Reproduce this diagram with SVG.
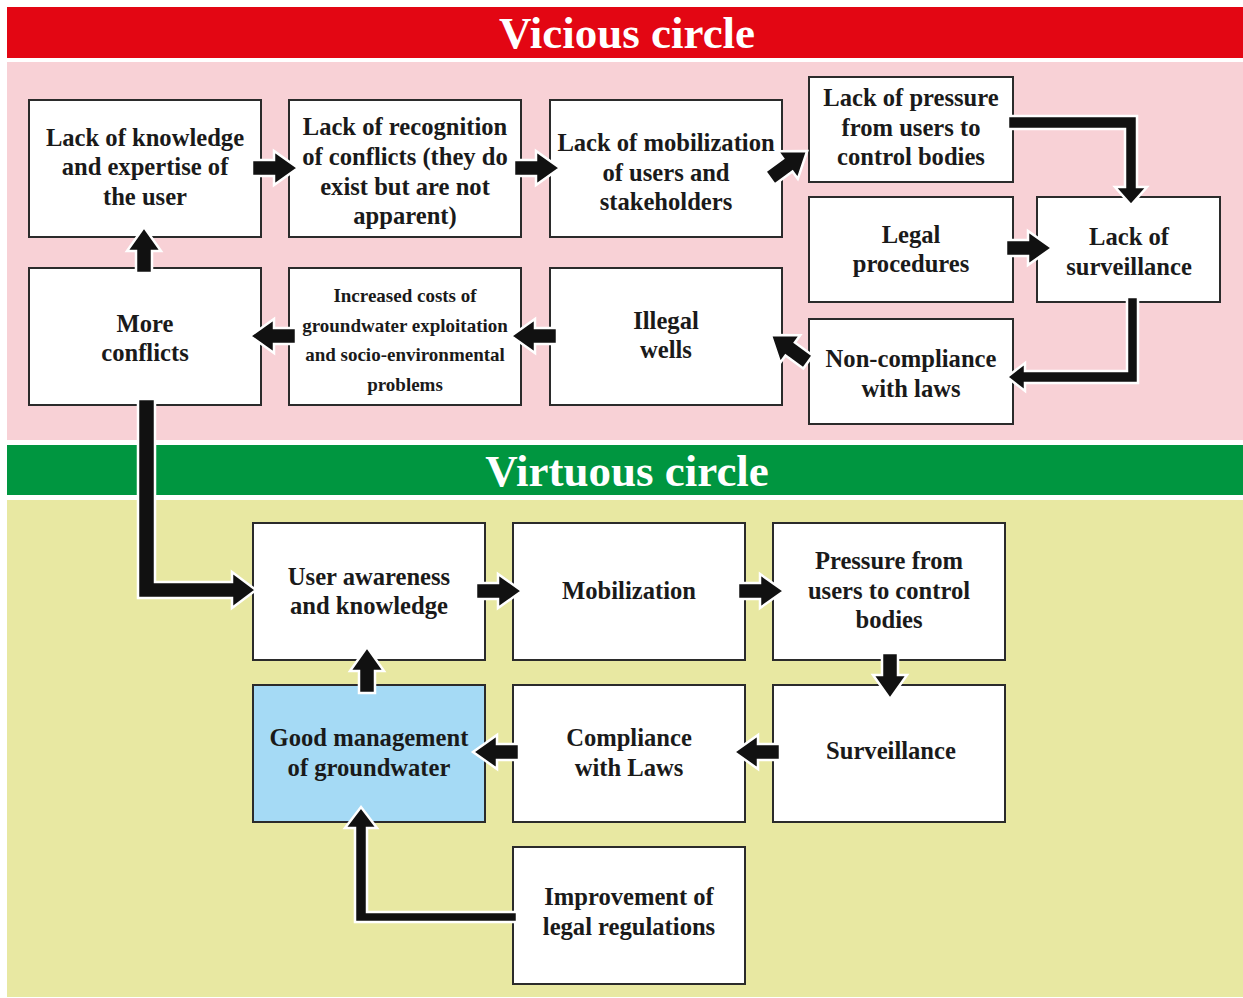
<svg xmlns="http://www.w3.org/2000/svg" width="1243" height="998" viewBox="0 0 1243 998">
<style>
.box{fill:#fff;stroke:#2b2b2b;stroke-width:2}
.blue{fill:#a5daf5}
.t{font-family:"Liberation Serif","Times New Roman",serif;font-weight:bold;font-size:24.6px;fill:#1a1a1a;text-anchor:middle}
.s{font-size:19px}
.title{font-family:"Liberation Serif","Times New Roman",serif;font-weight:bold;font-size:45px;fill:#fff;text-anchor:middle}
.arr{fill:#111;stroke:#fff;stroke-width:2.5;stroke-linejoin:miter}
</style>
<defs>
<path id="a" class="arr" d="M0,-8 H22 V-17 L46,0 L22,17 V8 H0 Z"/>
</defs>
<rect width="1243" height="998" fill="#fff"/>
<g id="bands">
<rect x="7" y="7" width="1236" height="51" fill="#e30613"/>
<rect x="7" y="62" width="1236" height="378" fill="#f8d1d6"/>
<rect x="7" y="445" width="1236" height="50" fill="#009640"/>
<rect x="7" y="500" width="1236" height="497" fill="#e8e8a2"/>
<text class="title" x="627" y="48">Vicious circle</text>
<text class="title" x="627" y="486">Virtuous circle</text>
</g>
<g id="n1"><rect class="box" x="29" y="100" width="232" height="137"/><text class="t"><tspan x="145" y="146">Lack of knowledge</tspan><tspan x="145" y="175">and expertise of</tspan><tspan x="145" y="205">the user</tspan></text></g>
<g id="n2"><rect class="box" x="289" y="100" width="232" height="137"/><text class="t"><tspan x="405" y="135">Lack of recognition</tspan><tspan x="405" y="165">of conflicts (they do</tspan><tspan x="405" y="195">exist but are not</tspan><tspan x="405" y="224">apparent)</tspan></text></g>
<g id="n3"><rect class="box" x="550" y="100" width="232" height="137"/><text class="t"><tspan x="666" y="151">Lack of mobilization</tspan><tspan x="666" y="181">of users and</tspan><tspan x="666" y="210">stakeholders</tspan></text></g>
<g id="n4"><rect class="box" x="809" y="77" width="204" height="105"/><text class="t"><tspan x="911" y="106">Lack of pressure</tspan><tspan x="911" y="136">from users to</tspan><tspan x="911" y="165">control bodies</tspan></text></g>
<g id="n5"><rect class="box" x="809" y="197" width="204" height="105"/><text class="t"><tspan x="911" y="243">Legal</tspan><tspan x="911" y="272">procedures</tspan></text></g>
<g id="n6"><rect class="box" x="1037" y="197" width="183" height="105"/><text class="t"><tspan x="1129" y="245">Lack of</tspan><tspan x="1129" y="275">surveillance</tspan></text></g>
<g id="n7"><rect class="box" x="809" y="319" width="204" height="105"/><text class="t"><tspan x="911" y="367">Non-compliance</tspan><tspan x="911" y="397">with laws</tspan></text></g>
<g id="n8"><rect class="box" x="550" y="268" width="232" height="137"/><text class="t"><tspan x="666" y="329">Illegal</tspan><tspan x="666" y="358">wells</tspan></text></g>
<g id="n9"><rect class="box" x="289" y="268" width="232" height="137"/><text class="t s"><tspan x="405" y="302">Increased costs of</tspan><tspan x="405" y="332">groundwater exploitation</tspan><tspan x="405" y="361">and socio-environmental</tspan><tspan x="405" y="391">problems</tspan></text></g>
<g id="n10"><rect class="box" x="29" y="268" width="232" height="137"/><text class="t"><tspan x="145" y="332">More</tspan><tspan x="145" y="361">conflicts</tspan></text></g>
<g id="v1"><rect class="box" x="253" y="523" width="232" height="137"/><text class="t"><tspan x="369" y="585">User awareness</tspan><tspan x="369" y="614">and knowledge</tspan></text></g>
<g id="v2"><rect class="box" x="513" y="523" width="232" height="137"/><text class="t"><tspan x="629" y="599">Mobilization</tspan></text></g>
<g id="v3"><rect class="box" x="773" y="523" width="232" height="137"/><text class="t"><tspan x="889" y="569">Pressure from</tspan><tspan x="889" y="599">users to control</tspan><tspan x="889" y="628">bodies</tspan></text></g>
<g id="v4"><rect class="box" x="773" y="685" width="232" height="137"/><text class="t"><tspan x="891" y="759">Surveillance</tspan></text></g>
<g id="v5"><rect class="box" x="513" y="685" width="232" height="137"/><text class="t"><tspan x="629" y="746">Compliance</tspan><tspan x="629" y="776">with Laws</tspan></text></g>
<g id="v6"><rect class="box blue" x="253" y="685" width="232" height="137"/><text class="t"><tspan x="369" y="746">Good management</tspan><tspan x="369" y="776">of groundwater</tspan></text></g>
<g id="v7"><rect class="box" x="513" y="847" width="232" height="137"/><text class="t"><tspan x="629" y="905">Improvement of</tspan><tspan x="629" y="935">legal regulations</tspan></text></g>
<g id="connectors">
<use href="#a" transform="translate(252,168)"/>
<use href="#a" transform="translate(514,168)"/>
<use href="#a" transform="translate(770,178) rotate(-36)"/>
<use href="#a" transform="translate(1006,248)"/>
<use href="#a" transform="translate(808,362) rotate(-144)"/>
<use href="#a" transform="translate(557,336) rotate(180)"/>
<use href="#a" transform="translate(296,336) rotate(180)"/>
<use href="#a" transform="translate(144,273) rotate(-90)"/>
<path class="arr" d="M1008,116 H1137 V187 H1147 L1131,205 L1115,187 H1125 V129 H1008 Z"/>
<path class="arr" d="M1127,297 H1138 V383 H1025 V391 L1007,377 L1025,363 V371 H1127 Z"/>
<path class="arr" d="M138,399 H155 V582 H232 V572 L256,590 L232,608 V598 H138 Z"/>
<use href="#a" transform="translate(476,591)"/>
<use href="#a" transform="translate(738,591)"/>
<use href="#a" transform="translate(890,653) rotate(90)"/>
<use href="#a" transform="translate(780,752) rotate(180)"/>
<use href="#a" transform="translate(519,752) rotate(180)"/>
<use href="#a" transform="translate(367,693) rotate(-90)"/>
<path class="arr" d="M517,912 V922 H355 V828 H345 L361,807 L377,828 H367 V912 Z"/>
</g>
</svg>
